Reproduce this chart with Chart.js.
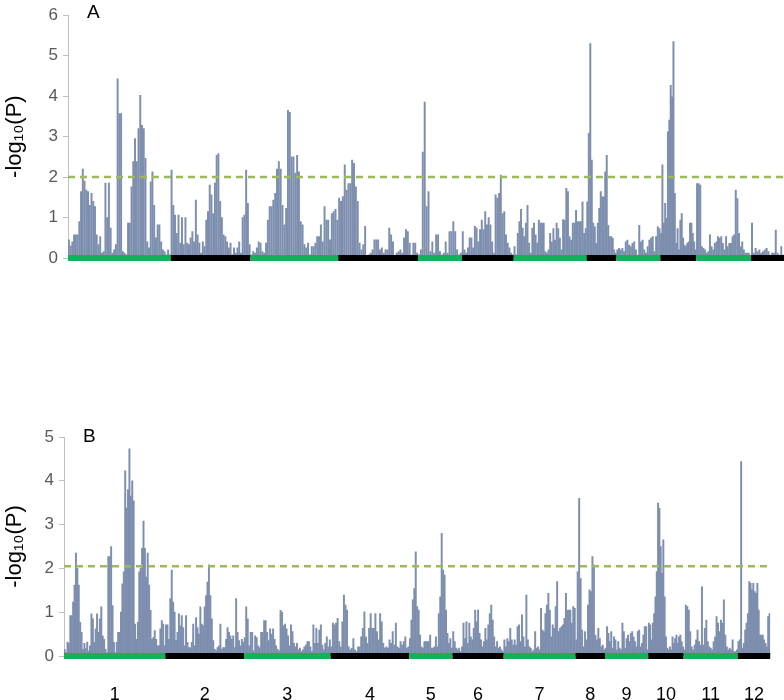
<!DOCTYPE html>
<html>
<head>
<meta charset="utf-8">
<script src="https://cdn.jsdelivr.net/npm/chart.js@4.4.0/dist/chart.umd.min.js"></script>
<style>
  body { margin: 0; background: #fff; }
  .panel { position: absolute; left: 0; width: 784px; }
  #boxA { top: 0; height: 302px; }
  #boxB { top: 410px; height: 290px; }
</style>
</head>
<body>
<div class="panel" id="boxA"><canvas id="chartA"></canvas></div>
<div class="panel" id="boxB"><canvas id="chartB"></canvas></div>
<script>
// chromosome names and map lengths
const chrNames = ['1', '2', '3', '4', '5', '6', '7', '8', '9', '10', '11', '12'];
const chrLengths = [103, 80, 88, 80, 44, 52, 73, 30, 44, 36, 55, 33];

// -log10(P) per marker, one list per chromosome (panel A)
const scoresA = [
    [0.45,0.3,0.4,0.57,0.57,0.57,0.9,1.64,2.2,1.9,1.68,1.64,1.3,1.6,1.4,1.27,0.57,0.33,0.53,0.12,0.16,1.85,1.0,1.85,0.74,0.12,0.2,0.33,4.43,3.57,3.57,0.16,0.12,0.08,0.86,0.86,1.76,2.38,2.95,2.38,3.2,4.02,3.28,3.2,2.46,0.4,0.25,1.88,2.13,1.3,0.5,0.82,0.82,0.4,0.2,0.16,0.08,0.2,0.08],
    [2.17,1.3,1.06,0.61,1.06,0.37,1.0,0.33,1.0,0.37,0.33,0.5,0.65,0.4,1.43,0.57,0.37,0.12,0.4,0.28,0.94,1.15,1.8,1.56,1.1,1.85,2.54,2.58,1.4,1.0,0.57,0.53,0.4,0.25,0.37,0.08,0.25,0.12,0.25,0.4,0.12,1.0,1.06,2.17,1.35,0.33],
    [0.08,0.16,0.12,0.25,0.4,0.37,0.16,0.12,0.37,0.94,1.27,1.27,1.43,1.6,2.2,2.38,2.2,1.3,0.82,1.23,3.65,3.6,2.5,2.5,2.1,2.54,2.13,0.9,0.82,0.33,0.25,0.37,0.08,0.28,0.28,0.37,0.53,0.53,0.82,0.4,1.27,0.94,0.94,0.45,1.1,1.15,1.2,0.94],
    [1.48,1.4,1.52,2.3,1.68,1.84,1.84,2.42,2.34,1.76,1.4,0.37,0.2,0.33,0.78,0.04,0.08,0.12,0.2,0.45,0.45,0.45,0.2,0.25,0.12,0.2,0.2,0.74,0.57,0.4,0.04,0.12,0.16,0.2,0.12,0.5,0.7,0.65,0.37,0.08,0.37,0.37,0.12],
    [0.08,0.2,2.62,3.85,1.27,1.64,0.16,0.4,0.12,0.57,0.57,0.16,0.08,0.12,0.4,0.12,0.65,0.65,0.9,0.65,0.2,0.08,0.12],
    [0.65,0.2,0.12,0.25,0.5,0.5,0.25,0.78,0.74,0.4,0.7,0.94,0.7,1.15,0.82,1.0,0.82,0.4,0.12,1.56,1.48,1.6,2.05,1.1,1.15,0.57,0.37,0.25,0.12,0.08],
    [0.28,0.08,0.61,0.9,1.2,0.74,0.53,0.86,1.3,0.37,0.12,0.74,0.86,0.57,0.37,0.94,0.86,0.86,0.86,0.16,0.12,0.2,0.61,0.4,0.73,0.44,0.86,0.73,0.49,0.2,0.95,0.94,1.72,1.64,0.53,0.44,0.86,0.86,1.18,0.9,0.9,0.9,1.39,0.61,0.73],
    [1.39,3.08,5.3,2.42,0.86,0.77,0.36,0.86,1.23,1.64,1.51,1.51,2.13,2.54,0.81,0.53,0.53,0.49,0.2,0.12],
    [0.2,0.24,0.2,0.24,0.16,0.4,0.44,0.32,0.28,0.36,0.4,0.2,0.07,0.81,0.4,0.44,0.2,0.12,0.28,0.44,0.49,0.53,0.16,0.53,0.77,0.73],
    [0.61,2.3,0.86,1.35,0.98,3.12,3.41,4.27,3.98,5.35,1.6,0.36,0.73,0.2,0.94,1.1,0.49,0.32,0.28,0.36,0.4,0.86,0.86,0.61,0.4,0.2],
    [1.84,1.84,1.8,0.28,0.24,0.2,0.12,0.16,0.57,0.28,0.2,0.36,0.4,0.53,0.49,0.53,0.36,0.2,0.53,0.28,0.36,0.36,0.53,0.57,1.68,1.47,0.61,0.28,0.4,0.2,0.12,0.12,0.12,0.07],
    [0.86,0.12,0.24,0.16,0.2,0.12,0.16,0.2,0.24,0.16,0.07,0.12,0.12,0.69,0.12,0.07,0.28,0.07]
];

// panel B
const scoresB = [
    [0.15,0.08,0.32,0.29,0.92,0.92,1.23,1.62,2.35,2.0,1.62,0.77,0.54,0.15,0.29,0.17,0.32,0.12,0.23,0.96,0.85,0.31,0.62,0.96,0.54,0.85,1.12,0.46,0.38,0.15,0.08,2.27,2.27,2.5,1.15,0.31,0.08,0.31,0.54,0.54,1.0,1.65,1.92,4.23,3.38,3.8,4.73,3.65,4.0,3.54,0.73,0.38,0.77,1.92,2.0,2.46,3.08,2.46,1.8,2.35,1.62,1.04,0.38,0.42,0.58,0.38,0.23,0.23,0.62,0.81,0.73,0.23],
    [0.71,0.71,0.38,1.31,1.96,1.23,1.0,0.35,0.54,0.96,0.69,0.92,0.65,0.23,0.92,0.31,0.19,0.19,0.31,0.73,0.23,0.88,0.65,0.5,1.12,0.73,0.69,1.12,1.38,1.69,2.08,1.38,0.85,0.35,0.15,0.12,0.19,0.23,0.73,0.15,0.19,0.19,0.38,0.65,0.54,0.46,0.38,0.46,0.19,1.31,0.54,0.35,0.23,0.38,0.31],
    [0.42,1.12,0.85,0.23,0.54,0.54,0.12,0.46,0.42,0.23,0.19,0.54,0.54,0.81,0.81,0.54,0.35,0.62,0.5,0.62,0.38,0.23,0.15,0.12,1.04,1.0,0.69,0.73,0.62,0.46,0.23,0.71,0.56,0.29,0.21,0.29,0.14,0.18,0.1,0.14,0.21,0.25,0.33,0.33,0.21,0.1,0.71,0.29,0.63,0.29,0.59,0.71,0.25,0.14,0.29,0.44,0.21,0.37],
    [0.21,0.75,0.71,0.75,0.86,0.33,0.21,0.78,1.39,1.16,1.05,0.21,0.14,0.18,0.4,0.14,0.1,0.21,0.21,0.44,0.63,1.01,0.44,0.29,0.63,0.97,0.63,0.63,0.97,0.56,0.37,0.97,0.78,0.29,0.18,0.21,0.18,0.37,0.29,0.56,0.25,0.75,0.21,0.18,0.33,0.25,0.33,0.44,0.18,0.21],
    [0.4,0.82,1.28,1.54,2.38,1.13,1.05,0.48,0.21,0.18,0.33,0.33,0.33,0.33,0.48,0.18,0.18,0.21,0.44,0.21,0.97,1.35,2.8,1.96,1.85,1.05,0.52,0.29,0.4,0.18],
    [0.56,0.33,0.18,0.14,0.18,0.1,0.21,0.75,0.4,0.78,0.29,0.75,0.44,0.37,0.63,1.05,0.78,1.05,0.52,0.37,0.21,0.33,0.63,0.37,0.71,0.97,1.16,0.82,0.44,0.21,0.33,0.18,0.21,0.14,0.1],
    [0.37,0.21,0.4,0.33,0.63,0.37,0.25,0.37,0.25,0.67,0.71,0.33,0.94,0.44,0.21,1.39,0.37,0.21,0.18,0.1,0.14,0.56,0.18,0.21,0.14,1.09,0.59,0.56,0.97,1.16,1.43,1.05,0.44,0.71,0.63,1.13,1.7,0.56,0.63,0.67,0.71,0.86,1.43,1.05,1.05,1.05,0.75,1.13,1.09],
    [0.37,1.93,3.6,1.77,0.59,0.21,0.56,0.37,1.16,1.51,1.47,2.27,2.08,0.48,0.37,0.63,0.4,0.21,0.25,0.14],
    [0.18,0.67,0.52,0.33,0.56,0.18,0.44,0.37,0.14,0.33,0.18,0.14,0.75,0.56,0.18,0.4,0.48,0.33,0.52,0.56,0.44,0.33,0.21,0.56,0.59,0.21,0.29,0.48,0.67,0.67,0.14],
    [0.75,0.71,0.37,0.75,0.97,1.35,1.93,3.49,3.37,2.5,1.89,2.65,1.35,0.44,0.18,0.14,0.21,0.14,0.44,0.29,0.4,0.48,0.29,0.44,0.48,0.33,0.21],
    [0.14,1.16,1.13,1.05,0.56,0.21,0.14,0.25,0.37,0.59,0.33,0.25,1.58,0.25,0.63,0.82,0.33,0.21,0.18,0.14,0.33,0.44,0.9,0.75,0.56,0.82,0.75,1.28,0.48,0.21,0.14,0.18,0.14,0.37,0.1,0.1,0.14],
    [0.33,0.37,4.44,0.18,0.29,0.59,0.75,0.97,1.7,1.66,1.51,1.66,1.47,1.43,1.66,1.05,0.48,0.48,0.48,0.37,0.29,0.21,0.9,0.97]
];

const thresholdA = 2.0;
const thresholdB = 2.05;
const yTicksA = [0, 1, 2, 3, 4, 5, 6];
const yTicksB = [0, 1, 2, 3, 4, 5];

const barColor = '#7d8eae';
const green = '#14b05a';
const black = '#000000';
const dashColor = '#9bbb59';
const tickFont = "'Liberation Sans Narrow', 'Liberation Sans', sans-serif";
const titleFont = "'Liberation Sans', Arial, sans-serif";

Chart.defaults.animation = false;

// cumulative start of each chromosome
const chrStarts = [];
let total = 0;
chrLengths.forEach(len => { chrStarts.push(total); total += len; });
const chrMids = chrLengths.map((len, i) => chrStarts[i] + len / 2);

function markerPoints(scores) {
    const pts = [];
    scores.forEach((vals, c) => {
        const step = chrLengths[c] / vals.length;
        vals.forEach((v, i) => pts.push({ x: chrStarts[c] + (i + 0.5) * step, y: v }));
    });
    return pts;
}

function bandPoints() {
    const pts = chrStarts.map(s => ({ x: s, y: 0 }));
    pts.push({ x: total, y: 0 });
    return pts;
}

// panel letter A / B in the top-left corner
const panelLetter = {
    id: 'panelLetter',
    afterDraw(chart, args, opts) {
        const { ctx, chartArea } = chart;
        ctx.save();
        ctx.font = '19px ' + titleFont;
        ctx.fillStyle = '#000';
        ctx.textBaseline = 'alphabetic';
        ctx.fillText(opts.text, chartArea.left + 19, chartArea.top + opts.dy);
        ctx.restore();
    }
};

function makeChart(canvasId, scores, threshold, yTicks, opt) {
    return new Chart(document.getElementById(canvasId), {
        type: 'bar',
        data: {
            datasets: [
                {
                    type: 'line',
                    data: bandPoints(),
                    borderWidth: 6,
                    pointRadius: 0,
                    clip: false,
                    segment: {
                        borderColor: ctx => ctx.p0DataIndex % 2 === 0 ? green : black
                    },
                    order: 0
                },
                {
                    type: 'line',
                    data: [{ x: 0, y: threshold }, { x: total, y: threshold }],
                    borderColor: dashColor,
                    borderWidth: 2.5,
                    borderDash: [7, 5],
                    pointRadius: 0,
                    order: 1
                },
                {
                    data: markerPoints(scores),
                    backgroundColor: barColor,
                    barThickness: 1.3,
                    order: 2
                }
            ]
        },
        options: {
            responsive: true,
            maintainAspectRatio: false,
            layout: { padding: { top: opt.padTop, bottom: 0, left: 0, right: 0 } },
            plugins: {
                legend: { display: false },
                tooltip: { enabled: false },
                panelLetter: { text: opt.letter, dy: opt.letterDy }
            },
            scales: {
                x: {
                    type: 'linear',
                    min: 0,
                    max: total,
                    offset: false,
                    display: opt.showX,
                    grid: { display: false },
                    border: { display: false },
                    afterBuildTicks: scale => { scale.ticks = chrMids.map(v => ({ value: v })); },
                    afterFit: scale => { scale.height = 44; },
                    ticks: {
                        autoSkip: false,
                        maxRotation: 0,
                        padding: 20,
                        color: '#000',
                        font: { family: tickFont, size: 18 },
                        callback: (v, i) => chrNames[i]
                    }
                },
                y: {
                    min: 0,
                    max: yTicks[yTicks.length - 1],
                    afterBuildTicks: scale => { scale.ticks = yTicks.map(v => ({ value: v })); },
                    afterFit: scale => { scale.width = opt.axisLeft; },
                    grid: { drawOnChartArea: false, drawTicks: true, tickLength: 5, color: '#bfbfbf' },
                    border: { display: true, color: '#bfbfbf' },
                    ticks: {
                        padding: 5,
                        color: '#595959',
                        font: { family: tickFont, size: 17 }
                    },
                    title: {
                        display: true,
                        text: '-log\u2081\u2080(P)',
                        color: '#000',
                        font: { family: titleFont, size: 22 },
                        padding: { top: 2, bottom: 0 }
                    }
                }
            }
        },
        plugins: [panelLetter]
    });
}

makeChart('chartA', scoresA, thresholdA, yTicksA, {
    padTop: 15, showX: false, axisLeft: 68, letter: 'A', letterDy: 3
});
makeChart('chartB', scoresB, thresholdB, yTicksB, {
    padTop: 27, showX: true, axisLeft: 64, letter: 'B', letterDy: 5
});
</script>
</body>
</html>
